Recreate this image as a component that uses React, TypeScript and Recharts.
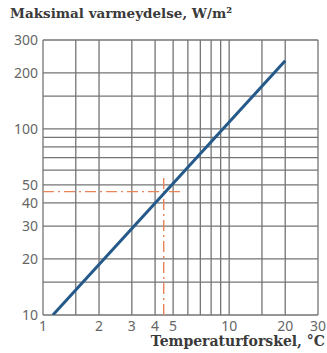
import { LineChart, Line, XAxis, YAxis, ReferenceLine } from "recharts"

// log-log: maks. varmeydelse mot temperaturforskel
const TEMP_DIFF = [1.13, 20]
const HEAT_OUTPUT = [10, 232]

const X_TICKS = [1, 2, 3, 4, 5, 10, 20, 30]
const Y_TICKS = [10, 20, 30, 40, 50, 100, 200, 300]

// hjelpelinjer i rutenettet (inkl. rammen)
const X_GRID = [1, 1.5, 2, 3, 4, 5, 6, 7, 8, 9, 10, 15, 20, 30]
const Y_GRID = [10, 15, 20, 30, 40, 50, 60, 70, 80, 90, 100, 150, 200, 300]

// avlesningseksempel (stiplet)
const READ_X = 4.45
const READ_Y = 46
const READ_X_END = 5.6
const READ_Y_TOP = 56

const data = TEMP_DIFF.map((x, i) => ({ x, y: HEAT_OUTPUT[i] }))

const GRID = "#747474"
const ORANGE = "#e8845a"
const BLUE = "#24598a"

export default function App() {
  const tickStyle = { fontSize: 14, fill: "#666", fontFamily: "Noto Sans" }
  return (
    <div style={{ position: "absolute", left: 0, top: 0, width: 327, height: 353, background: "#fff" }}>
      <div
        style={{
          position: "absolute",
          left: 10,
          top: 5,
          fontFamily: "DejaVu Serif",
          fontWeight: "bold",
          fontSize: 13.5,
          color: "#3a3a3a",
          whiteSpace: "nowrap",
          zIndex: 2,
        }}
      >
        Maksimal varmeydelse, W/m²
      </div>
      <div
        style={{
          position: "absolute",
          right: 2,
          top: 333,
          fontFamily: "DejaVu Serif",
          fontWeight: "bold",
          fontSize: 14,
          color: "#3a3a3a",
          whiteSpace: "nowrap",
          zIndex: 2,
        }}
      >
        Temperaturforskel, °C
      </div>
      <LineChart width={327} height={353} data={data} margin={{ top: 40, right: 9, bottom: 0, left: 0 }}>
        <XAxis
          dataKey="x"
          type="number"
          scale="log"
          domain={[1, 30]}
          ticks={X_TICKS}
          allowDataOverflow
          axisLine={false}
          tickLine={false}
          tickSize={4}
          height={38}
          tick={tickStyle}
          interval={0}
        />
        <YAxis
          type="number"
          scale="log"
          domain={[10, 300]}
          ticks={Y_TICKS}
          allowDataOverflow
          axisLine={false}
          tickLine={false}
          tickSize={3}
          width={43}
          tick={tickStyle}
          interval={0}
        />
        {X_GRID.map((v) => (
          <ReferenceLine key={`gx-${v}`} x={v} stroke={GRID} strokeWidth={1.3} />
        ))}
        {Y_GRID.map((v) => (
          <ReferenceLine key={`gy-${v}`} y={v} stroke={GRID} strokeWidth={1.3} />
        ))}
        <ReferenceLine
          segment={[{ x: 1, y: READ_Y }, { x: READ_X_END, y: READ_Y }]}
          stroke={ORANGE}
          strokeWidth={1.4}
          strokeDasharray="11 4 2 4"
        />
        <ReferenceLine
          segment={[{ x: READ_X, y: 10 }, { x: READ_X, y: READ_Y_TOP }]}
          stroke={ORANGE}
          strokeWidth={1.4}
          strokeDasharray="11 4 2 4"
        />
        <Line
          dataKey="y"
          type="linear"
          stroke={BLUE}
          strokeWidth={3}
          dot={false}
          isAnimationActive={false}
        />
      </LineChart>
    </div>
  )
}
